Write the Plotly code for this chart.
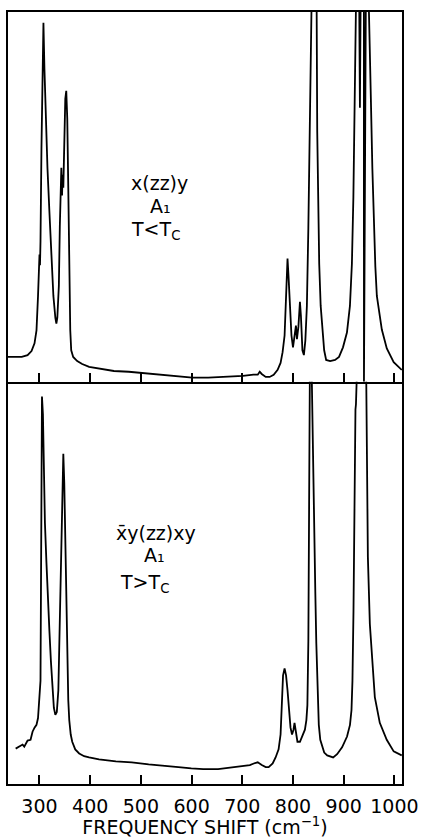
import plotly.graph_objects as go
from plotly.subplots import make_subplots

# ---- Data (frequency shift in cm^-1, relative intensity in % of panel height) ----
# Upper panel: x(zz)y, A1, T < Tc
low_t_shift = [237.9, 265.0, 276.5, 284.3, 290.2, 294.1, 297.1, 299.0, 300.0, 301.0, 302.0, 303.9,
               305.9, 307.8, 309.8, 312.7, 315.7, 319.6, 323.5, 327.4, 331.3, 333.3, 335.2, 338.2,
               340.1, 342.1, 343.1, 344.5, 345.5, 347.0, 348.9, 350.9, 352.8, 354.8, 356.8, 358.7,
               360.7, 362.6, 366.5, 374.4, 384.2, 397.9, 417.4, 446.8, 476.1, 501.6, 534.8, 564.2,
               601.4, 632.7, 671.8, 701.2, 722.0, 730.5, 734.4, 738.3, 746.2, 754.0, 761.9, 769.7,
               775.5, 779.5, 783.4, 786.3, 788.2, 789.2, 791.2, 793.1, 797.0, 800.0, 802.9, 805.8,
               807.8, 810.7, 813.7, 815.6, 818.6, 821.5, 824.4, 827.4, 830.3, 833.2, 836.2, 838.5,
               842.0, 846.0, 847.8, 849.8, 851.7, 854.6, 857.6, 861.5, 865.4, 873.2, 883.0, 890.8,
               898.6, 906.4, 912.3, 916.2, 919.1, 921.1, 923.0, 925.0, 928.0, 930.5, 932.0, 933.5,
               936.0, 939.8, 940.0, 940.2, 945.0, 949.0, 950.5, 951.6, 953.6, 956.5, 959.5, 962.4,
               965.4, 970.3, 975.2, 985.0, 998.6, 1014.5]
low_t_int = [6.7, 6.7, 7.2, 8.3, 10.4, 13.9, 23.2, 30.7, 34.4, 31.5, 38.0, 63.2,
             87.2, 97.1, 84.5, 68.5, 57.9, 45.9, 33.9, 23.2, 17.3, 15.7, 17.3, 25.9,
             41.9, 56.5, 57.9, 50.4, 56.0, 52.5, 63.2, 76.5, 78.7, 71.2, 52.5, 31.2,
             13.9, 8.5, 6.7, 5.6, 4.8, 4.0, 3.5, 2.9, 2.7, 2.4, 1.9, 1.6,
             1.1, 1.1, 1.3, 1.6, 1.9, 1.9, 2.7, 2.1, 1.3, 1.3, 1.9, 3.2,
             5.1, 8.0, 12.5, 23.2, 32.5, 33.3, 28.5, 21.9, 12.5, 9.3, 12.5, 15.2,
             11.5, 14.9, 21.6, 17.9, 8.5, 7.2, 11.2, 20.5, 41.6, 71.2, 95.2, 120.0,
             140.0, 120.0, 67.7, 47.2, 32.0, 20.5, 14.4, 8.5, 5.9, 5.6, 5.9, 6.7,
             9.3, 13.3, 20.5, 32.0, 49.9, 67.7, 87.2, 110.0, 140.0, 105.0, 74.1, 105.0,
             140.0, 120.0, 0.0, 120.0, 140.0, 105.0, 92.5, 84.5, 76.5, 57.9, 41.1, 31.2,
             23.2, 17.9, 14.1, 9.0, 5.3, 3.2]

# Lower panel: x̄y(zz)xy, A1, T > Tc
high_t_shift = [253.0, 260.9, 266.7, 270.0, 272.6, 276.5, 282.4, 286.3, 290.2, 294.1, 297.1, 299.0,
                301.0, 302.0, 302.9, 303.9, 304.9, 306.8, 308.8, 310.7, 313.7, 316.6, 319.6, 322.5,
                325.4, 328.4, 331.3, 334.2, 337.2, 339.1, 341.1, 342.1, 344.0, 346.0, 347.0, 348.9,
                350.9, 352.8, 354.8, 356.8, 358.7, 361.6, 364.6, 370.5, 378.3, 388.1, 397.9, 417.4,
                450.7, 482.0, 515.3, 548.5, 574.0, 599.4, 622.9, 652.3, 681.6, 701.2, 714.9, 722.7,
                730.5, 738.4, 746.2, 752.0, 759.9, 765.7, 771.6, 775.5, 778.5, 780.4, 783.4, 786.3,
                789.2, 792.2, 795.1, 798.1, 801.0, 803.0, 805.9, 808.8, 813.7, 818.6, 823.5, 826.4,
                828.4, 830.3, 831.5, 832.5, 834.5, 837.2, 840.1, 842.0, 844.0, 846.0, 848.0, 850.9,
                853.8, 857.7, 861.6, 867.5, 873.4, 879.2, 887.0, 896.8, 906.6, 912.4, 915.4, 917.3,
                919.3, 921.3, 922.2, 922.6, 923.2, 924.2, 926.2, 935.0, 943.8, 945.8, 947.7, 951.6,
                955.6, 961.4, 971.2, 984.9, 998.6, 1010.4, 1014.5]
high_t_int = [8.8, 9.3, 9.8, 9.3, 10.0, 10.8, 11.0, 13.0, 14.0, 14.7, 16.4, 20.8,
              22.1, 25.7, 47.8, 77.2, 96.3, 91.9, 77.2, 65.0, 55.1, 45.3, 38.0, 30.6,
              23.3, 18.9, 17.2, 17.9, 23.3, 35.5, 52.7, 55.6, 65.0, 79.7, 82.1, 74.8,
              62.5, 45.3, 30.6, 20.8, 15.9, 12.3, 10.5, 8.6, 7.6, 6.9, 6.6, 6.1,
              5.6, 5.4, 4.9, 4.4, 4.2, 3.9, 3.7, 3.7, 4.2, 4.4, 4.7, 5.1,
              5.4, 4.7, 4.2, 4.2, 5.1, 6.6, 8.6, 12.3, 20.8, 27.0, 28.7, 27.0,
              23.3, 18.4, 14.0, 12.3, 13.5, 15.2, 12.3, 10.5, 10.5, 11.8, 13.5, 15.9,
              19.6, 35.5, 72.3, 100.0, 130.0, 100.0, 72.3, 60.0, 47.8, 35.0, 23.3, 14.7,
              11.0, 9.1, 7.8, 7.1, 6.9, 6.6, 7.4, 9.1, 11.8, 14.7, 18.4, 25.7,
              42.9, 77.2, 89.5, 86.0, 93.1, 94.4, 110.0, 140.0, 110.0, 72.3, 56.4, 39.7,
              31.4, 21.6, 15.2, 11.0, 8.1, 7.4, 7.1]

tick_values = [300, 400, 500, 600, 700, 800, 900, 1000]
tick_labels = ["300", "400", "500", "600", "700", "800", "900", "1000"]
x_title = "FREQUENCY SHIFT (cm<sup>−1</sup>)"
top_labels = ["x(zz)y", "A\u2081", "T&lt;T<sub>C</sub>"]
bottom_labels = ["x\u0304y(zz)xy", "A\u2081", "T&gt;T<sub>C</sub>"]

FONT = "DejaVu Sans"
W, H = 427, 838
ML, MR, MT, MB = 8, 22, 12, 43
PW, PH = W - ML - MR, H - MT - MB

fig = make_subplots(rows=2, cols=1, shared_xaxes=True, vertical_spacing=0,
                    row_heights=[375, 408])

line_style = dict(color="black", width=1.8)
fig.add_trace(go.Scatter(x=low_t_shift, y=low_t_int, mode="lines", line=line_style,
                         showlegend=False, hoverinfo="skip"), row=1, col=1)
fig.add_trace(go.Scatter(x=high_t_shift, y=high_t_int, mode="lines", line=line_style,
                         showlegend=False, hoverinfo="skip"), row=2, col=1)

xcommon = dict(range=[237.9, 1015], tickvals=tick_values, ticktext=tick_labels,
               ticks="inside", ticklen=9, tickwidth=1.5, tickcolor="black",
               showline=True, linecolor="black", linewidth=1.8,
               showgrid=False, zeroline=False)
fig.update_xaxes(**xcommon)
fig.update_xaxes(showticklabels=False, mirror=True, row=1, col=1)
fig.update_xaxes(showticklabels=True, mirror=False, ticklabelstandoff=4,
                 tickfont=dict(family=FONT, size=19, color="black"),
                 title=dict(text=x_title, font=dict(family=FONT, size=19, color="black"),
                            standoff=0),
                 row=2, col=1)
fig.update_yaxes(range=[0, 100], showticklabels=False, ticks="", showgrid=False,
                 zeroline=False, showline=True, linecolor="black", linewidth=1.6, mirror=True)


def px_to_paper(px, py):
    return (px - ML) / PW, (H - MB - py) / PH


label_pos_top = [(161, 185), (162, 209), (157, 234)]
label_pos_bottom = [(157, 540), (156, 563), (146, 592)]
for texts, poss in ((top_labels, label_pos_top), (bottom_labels, label_pos_bottom)):
    for t, (px, py) in zip(texts, poss):
        xp, yp = px_to_paper(px, py)
        fig.add_annotation(x=xp, y=yp, xref="paper", yref="paper", text=t, showarrow=False,
                           xanchor="center", yanchor="middle", borderpad=0,
                           font=dict(family=FONT, size=19, color="black"))

fig.update_layout(width=W, height=H, margin=dict(l=ML, r=MR, t=MT, b=MB),
                  paper_bgcolor="white", plot_bgcolor="white", showlegend=False)

fig.write_html("out.html")
